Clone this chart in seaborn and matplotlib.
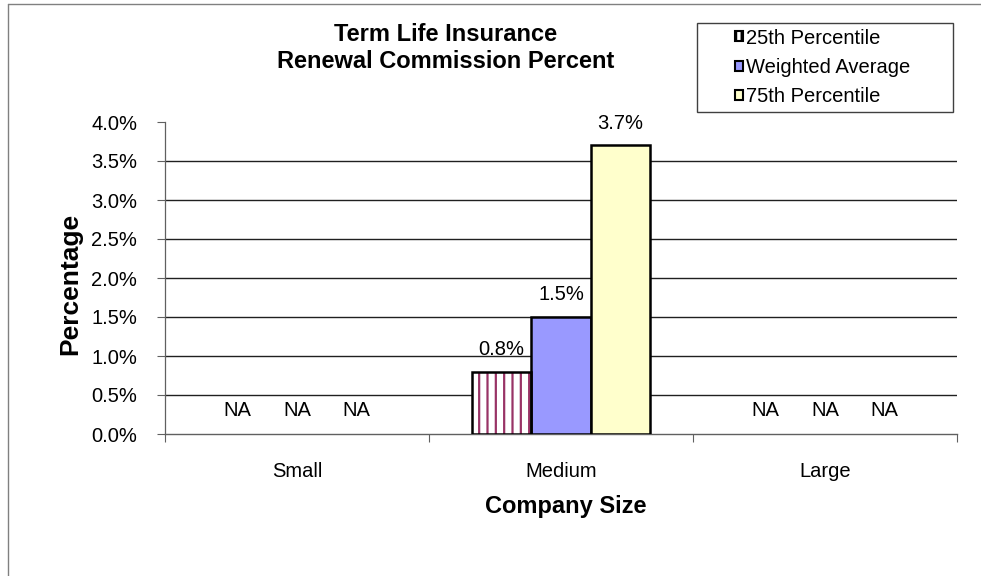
import numpy as np
import pandas as pd
import matplotlib
matplotlib.use("Agg")
import matplotlib.pyplot as plt
import seaborn as sns
from matplotlib.patches import Rectangle, Patch
from matplotlib.lines import Line2D
from matplotlib.ticker import FuncFormatter, MultipleLocator

categories = ["Small", "Medium", "Large"]
series = ["25th Percentile", "Weighted Average", "75th Percentile"]
p25 = [np.nan, 0.8, np.nan]
wavg = [np.nan, 1.5, np.nan]
p75 = [np.nan, 3.7, np.nan]
colors = ["#FFFFFF", "#9999FF", "#FFFFCC"]
hatch_color = "#993366"

rows = []
for name, vals in zip(series, [p25, wavg, p75]):
    for c, v in zip(categories, vals):
        rows.append({"Company Size": c, "Series": name, "Value": v})
df = pd.DataFrame(rows)

sns.set_theme(style="white")
plt.rcParams["font.family"] = ["Liberation Sans", "DejaVu Sans"]
plt.rcParams["hatch.linewidth"] = 1.6
for k in ["text.color", "axes.labelcolor", "xtick.labelcolor", "ytick.labelcolor"]:
    plt.rcParams[k] = "black"

W, H = 981, 576
fig = plt.figure(figsize=(W / 100, H / 100), dpi=100)
ax = fig.add_axes([165 / W, 1 - 434 / H, (957 - 165) / W, (434 - 122) / H])

group_width = 0.674
sns.barplot(data=df, x="Company Size", y="Value", hue="Series", order=categories,
            hue_order=series, palette=colors, width=group_width, dodge=True,
            edgecolor="black", linewidth=1.8, legend=False, ax=ax, errorbar=None,
            saturation=1, zorder=3)

# hatch first series
bw = group_width / len(series)
for patch in list(ax.patches):
    fc = patch.get_facecolor()
    if np.allclose(fc[:3], (1, 1, 1)) and np.isfinite(patch.get_height()) and patch.get_height() > 0:
        patch.set_edgecolor(hatch_color)
        patch.set_hatch("||")
        patch.set_linewidth(0)
        ax.add_patch(Rectangle(patch.get_xy(), patch.get_width(), patch.get_height(),
                               fill=False, edgecolor="black", linewidth=1.8, zorder=4))

ax.set_xlim(-0.5, 2.5)
ax.set_ylim(0, 4.0)

# gridlines
for yv in np.arange(0.5, 4.0, 0.5):
    ax.axhline(yv, color="#202020", linewidth=1.0, zorder=0)

fs = 14.5
ax.yaxis.set_major_locator(MultipleLocator(0.5))
ax.yaxis.set_major_formatter(FuncFormatter(lambda v, p: f"{v:.1f}%"))
ax.tick_params(axis="y", which="major", left=True, length=6, width=0.8, color="#606060",
               labelsize=fs, pad=14)
ax.set_xticks(range(len(categories)))
ax.set_xticklabels(categories)
ax.tick_params(axis="x", which="major", bottom=False, labelsize=fs, pad=14)
ax.set_xticks([-0.5, 0.5, 1.5, 2.5], minor=True)
ax.tick_params(axis="x", which="minor", bottom=True, length=6, width=0.8, color="#606060", direction="out")

for s in ["top", "right"]:
    ax.spines[s].set_visible(False)
ax.spines["left"].set_color("#606060")
ax.spines["left"].set_linewidth(0.9)
ax.spines["bottom"].set_color("#606060")
ax.spines["bottom"].set_linewidth(1.0)

ax.set_xlabel("Company Size", fontsize=17, fontweight="bold")
ax.xaxis.set_label_coords((566 - 165) / 792, (434 - 507) / 312)
ax.xaxis.label.set_va("center")
ax.set_ylabel("Percentage", fontsize=19, fontweight="bold")
ax.yaxis.set_label_coords((70 - 165) / 792, (434 - 284) / 312)
ax.yaxis.label.set_va("center")

# value labels and NA labels
offsets = [(i - 1) * bw for i in range(len(series))]
for si, vals in enumerate([p25, wavg, p75]):
    for ci, v in enumerate(vals):
        x = ci + offsets[si]
        if np.isfinite(v):
            ax.annotate(f"{v:.1f}%", (x, v), xytext=(0, 16), textcoords="offset points",
                        ha="center", va="center", fontsize=fs)
        else:
            ax.text(x, 0.30, "NA", ha="center", va="center", fontsize=fs)

fig.text(446 / W, 1 - 48 / H, "Term Life Insurance\nRenewal Commission Percent",
         ha="center", va="center", fontsize=17, fontweight="bold", linespacing=1.22)

handles = [Patch(facecolor="white", edgecolor="black", linewidth=1.5, hatch="|||"),
           Patch(facecolor=colors[1], edgecolor="black", linewidth=1.5),
           Patch(facecolor=colors[2], edgecolor="black", linewidth=1.5)]
leg = fig.legend(handles, series, loc="center left",
                 bbox_to_anchor=(735 / W, 1 - 67.5 / H), fontsize=fs,
                 frameon=False, handlelength=0.4, handleheight=0.4,
                 handletextpad=0.15, labelspacing=0.52,
                 borderpad=0, borderaxespad=0)
fig.add_artist(Rectangle((697 / W, 1 - 112 / H), (953 - 697) / W, (112 - 23) / H,
                         transform=fig.transFigure, fill=False, edgecolor="#404040", linewidth=1.0))

# outer chart border
fig.add_artist(Line2D([8 / W, 8 / W], [0, 1 - 4 / H], color="#808080", linewidth=1, transform=fig.transFigure))
fig.add_artist(Line2D([8 / W, 1], [1 - 4 / H, 1 - 4 / H], color="#808080", linewidth=1, transform=fig.transFigure))

fig.savefig("out.png", dpi=100)
